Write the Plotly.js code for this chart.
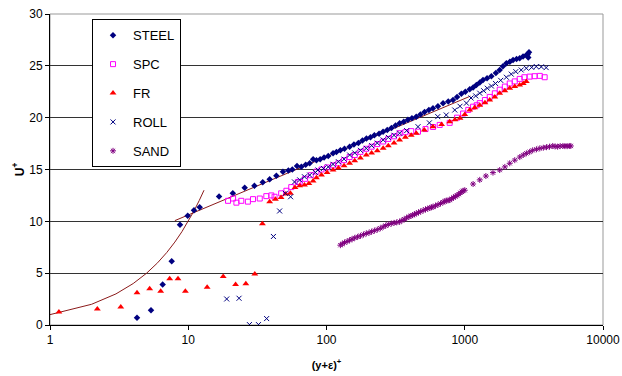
<!DOCTYPE html>
<html><head><meta charset="utf-8">
<script src="https://cdn.plot.ly/plotly-3.0.1.min.js"></script>
<style>html,body{margin:0;padding:0;background:#fff}#chart{width:622px;height:376px}</style>
</head><body><div id="chart"></div>
<script>
// ---- data ----
const steelX = [4.26,5.38,6.53,7.59,8.72,9.91,11.0,12.1,16.7,21.0,25.6,30.1,34.6,38.8,43.4,48.4,53,56.6,61.2,65.8,70.7,75.6,80,84.6,90,96,103,111.5,118,126,135,147,158,170,182,194.5,208,222,240,256.6,275,295,316,338,362,388,415,446,478,512,550,589,640,697,760,822,880,945,1010,1087,1150,1214,1285,1356,1450,1558,1680,1790,1890,2000,2120,2235,2370,2497,2640,2790,2850,2880,2917];
const steelY = [0.71,1.42,3.9,6.15,9.66,10.53,11.08,11.37,12.4,12.7,13.24,13.43,13.76,14.05,14.4,14.78,14.9,15.0,15.33,15.27,15.46,15.6,15.98,15.9,16.0,16.15,16.3,16.56,16.7,16.85,17.0,17.2,17.4,17.55,17.8,18.0,18.1,18.3,18.45,18.65,18.8,19.0,19.25,19.46,19.6,19.8,19.95,20.1,20.3,20.55,20.75,20.9,21.1,21.4,21.55,21.7,22.0,22.3,22.5,22.74,22.9,23.16,23.4,23.64,23.8,24.0,24.3,24.6,24.95,25.26,25.4,25.57,25.65,25.74,25.9,26.05,26.1,25.8,26.3];

const spcX = [19.4,21.1,22.3,24.2,27,29.4,32.9,36.7,39.9,42.1,47,51.3,55.6,62,64,70,77,84.6,92,101,111.5,122,134,147,160,176,194,212,233,257,280,308,338,372,410,459,520,590,659,778,880,973,1060,1149,1220,1284,1400,1516,1650,1790,1950,2115,2300,2497,2700,2950,3200,3490,3785];
const spcY = [11.98,12.2,11.8,11.98,11.9,12.14,12.2,12.43,12.5,12.37,12.7,12.95,13.3,13.8,13.8,14.1,14.45,14.8,15.0,15.2,15.4,15.6,15.9,16.2,16.4,16.7,17.0,17.2,17.45,17.7,17.95,18.2,18.5,18.6,18.7,18.65,18.9,19.1,19.3,19.5,20.0,20.4,20.75,21.06,21.2,21.4,21.7,22.0,22.35,22.7,23.0,23.3,23.5,23.74,23.9,23.96,24.0,24.03,23.9];

const frX = [1.16,2.2,3.25,4.26,5.26,6.32,7.34,8.43,9.53,13.7,17.9,22.0,26.1,30.3,34.4,38.8,42.7,46.9,50.7,54.8,59.2,64,69.3,74.6,80,84.6,92,101,111.5,122,134,147,160,176,194,212,233,257,280,308,338,372,410,446,510,589,680,778,850,924,1000,1087,1180,1284,1400,1516,1650,1790,1950,2115,2300,2497,2650,2790];
const frY = [1.26,1.55,1.74,3.1,3.5,3.26,4.45,4.45,3.26,3.65,4.68,3.9,3.97,4.93,9.76,11.88,12.14,12.3,12.63,12.7,13.27,13.43,13.5,13.66,13.9,14.2,14.46,14.7,14.95,15.15,15.35,15.6,15.85,16.1,16.4,16.6,16.8,17.04,17.3,17.55,17.85,18.1,18.3,18.5,18.8,19.13,19.35,19.6,19.8,19.95,20.3,20.74,20.95,21.2,21.45,21.7,22.0,22.36,22.6,22.84,23.0,23.16,23.3,23.48];

const rollX = [18.97,23.3,27.7,32.2,36.9,41.3,45.8,50.4,55,58.7,64,69.3,75.6,83,86.8,95,103,111.5,122,134,147,160,176,194,212,233,257,280,308,338,380,459,555,638,735,847,924,1028,1110,1200,1284,1370,1456,1560,1670,1820,2000,2170,2340,2560,2790,3050,3290,3580,3880];
const rollY = [2.51,2.58,0.04,0.04,0.62,8.54,11.0,12.7,12.37,13.8,14.0,14.3,14.46,14.72,14.95,15.1,15.25,15.5,15.75,16.0,16.4,16.6,16.85,17.04,17.3,17.55,17.85,18.1,18.3,18.5,18.75,19.13,19.5,20.1,20.26,20.74,21.1,21.4,21.9,22.1,22.36,22.6,22.84,23.05,23.3,23.6,23.9,24.2,24.44,24.6,24.77,24.85,24.93,24.9,24.83];

const sandX = [126,130,135,141,147,153,160,168,176,185,194,203,212,222,233,245,257,268,280,294,308,322,338,351,365,380,395,408,420,433,446,463,480,500,520,540,560,575,589,615,640,668,697,716,735,757,778,804,830,855,880,905,930,952,973,1000,1149,1284,1422,1600,1790,1950,2115,2300,2500,2650,2790,2950,3100,3300,3490,3700,3900,4100,4330,4500,4700,4900,5130,5300,5500,5700,5850];
const sandY = [7.7,7.82,7.95,8.06,8.18,8.28,8.4,8.5,8.6,8.72,8.83,8.9,9.0,9.1,9.2,9.33,9.47,9.58,9.7,9.78,9.85,9.9,9.95,10.08,10.2,10.33,10.45,10.52,10.6,10.68,10.76,10.86,10.95,11.05,11.15,11.22,11.3,11.35,11.4,11.5,11.6,11.72,11.85,11.92,12.0,12.02,12.05,12.18,12.3,12.4,12.5,12.62,12.75,12.85,12.95,13.0,13.6,14.0,14.37,14.7,14.95,15.25,15.6,15.9,16.2,16.4,16.56,16.7,16.85,16.95,17.04,17.1,17.15,17.2,17.27,17.22,17.2,17.25,17.27,17.25,17.25,17.27,17.27];

// viscous sublayer curve (u+ = y+) and log-law line, as read
const curveX = [1,2,3,4,5,6,7,8,9,10,11,12,13];
const curveY = [1,2,3,4,5,6,7,8,9,10,11,12,13];
const logLawX = [8,1100];
const logLawY = [10.07,22.08];

const dark = '#8B1A1A';
const traces = [
  {x: curveX, y: curveY, mode: 'lines', line: {color: dark, width: 1}, showlegend: false, hoverinfo: 'skip'},
  {x: logLawX, y: logLawY, mode: 'lines', line: {color: dark, width: 1}, showlegend: false, hoverinfo: 'skip'},
  {x: steelX, y: steelY, mode: 'markers', name: 'STEEL', legendgroup: 'a',
   marker: {symbol: 'diamond', size: 5, color: '#000080'}},
  {x: spcX, y: spcY, mode: 'markers', name: 'SPC', legendgroup: 'b',
   marker: {symbol: 'square-open', size: 5, color: '#FF00FF', line: {width: 1, color: '#FF00FF'}}},
  {x: frX, y: frY, mode: 'markers', name: 'FR', legendgroup: 'c',
   marker: {symbol: 'triangle-up', size: 6, color: '#FF0000'}},
  {x: rollX, y: rollY, mode: 'markers', name: 'ROLL', legendgroup: 'd',
   marker: {symbol: 'x-thin-open', size: 5, color: '#000080', line: {width: 1, color: '#000080'}}},
  {x: sandX, y: sandY, mode: 'markers', name: 'SAND', legendgroup: 'e',
   marker: {symbol: 'asterisk-open', size: 5, color: '#800080', line: {width: 1, color: '#800080'}}}
];

const layout = {
  width: 622, height: 376,
  margin: {l: 50, r: 19, t: 14, b: 51},
  paper_bgcolor: '#fff', plot_bgcolor: '#fff',
  font: {family: 'Arial, "Liberation Sans", sans-serif', size: 12, color: '#000'},
  showlegend: true,
  legend: {x: 0.076, y: 0.983, xanchor: 'left', yanchor: 'top', bgcolor: '#fff',
    bordercolor: '#000', borderwidth: 1, font: {size: 13}, tracegroupgap: 9,
    traceorder: 'grouped', itemwidth: 30},
  xaxis: {type: 'log', range: [0, 4], tickvals: [1, 10, 100, 1000, 10000], ticktext: ['1', '10', '100', '1000', '10000'],
    ticks: 'outside', ticklen: 4, tickcolor: '#000', showgrid: false, showline: true, linecolor: '#000', linewidth: 1,
    zeroline: false, tickfont: {size: 12},
    title: {text: '<b>(y+ε)<sup>+</sup></b>', font: {size: 11}, standoff: 14}},
  yaxis: {range: [0, 30], dtick: 5, ticks: 'outside', ticklen: 4, tickcolor: '#000', showgrid: true, gridcolor: '#333',
    gridwidth: 1, showline: true, linecolor: '#000', linewidth: 1, zeroline: false, tickfont: {size: 12},
    title: {text: '<b>U<sup>+</sup></b>', font: {size: 12}, standoff: 2}},
  shapes: [{type: 'rect', xref: 'paper', yref: 'paper', x0: 0, x1: 1, y0: 0, y1: 1, line: {color: '#999', width: 1}, layer: 'below'}]
};

Plotly.newPlot('chart', traces, layout, {displayModeBar: false, staticPlot: true});
</script>
</body></html>
